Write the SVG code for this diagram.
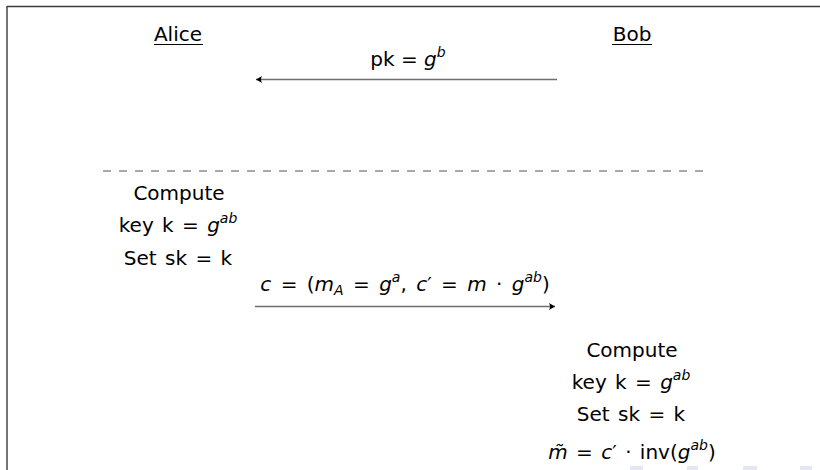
<svg xmlns="http://www.w3.org/2000/svg" width="820" height="470" viewBox="0 0 820 470">
<defs>
<style>
text{font-family:"DejaVu Sans","Liberation Sans",sans-serif;font-size:20px;fill:#000}
.c{text-anchor:middle}
.i{font-style:italic}
.s{font-size:14px}
.conn{stroke:#6e6e6e;stroke-width:1.3;fill:none}
.ul{stroke:#000;stroke-width:1.2}
</style>
<marker id="ah" markerWidth="10" markerHeight="10" refX="7" refY="5" orient="auto" markerUnits="userSpaceOnUse">
<path d="M7,5 L1,1.5 Q3,5 1,8.5 Z" fill="#000"/>
</marker>
</defs>
<rect x="0" y="0" width="820" height="470" fill="#fff"/>
<g id="frame" stroke="#3a3a3a" stroke-width="1.4" fill="none">
<line x1="7" y1="6.5" x2="820" y2="6.5"/>
<line x1="7" y1="6" x2="7" y2="470"/>
</g>
<g id="nav" fill="#e6e6f3">
<rect x="630" y="466" width="13" height="4"/>
<rect x="687" y="466" width="11" height="4"/>
<rect x="743" y="466" width="14" height="4"/>
<rect x="800" y="466" width="12" height="4"/>
</g>
<g id="alice">
<text class="c" x="178" y="41">Alice</text>
<line class="ul" x1="154" y1="44.5" x2="203" y2="44.5"/>
</g>
<g id="bob">
<text class="c" x="632" y="41">Bob</text>
<line class="ul" x1="612" y1="44.5" x2="652" y2="44.5"/>
</g>
<g id="separator">
<line x1="103" y1="171" x2="703" y2="171" stroke="#555" stroke-width="1.2" stroke-dasharray="8 8"/>
</g>
<g id="connectors">
<line class="conn" x1="557" y1="79.5" x2="256" y2="79.5" marker-end="url(#ah)"/>
<line class="conn" x1="255" y1="306.5" x2="555" y2="306.5" marker-end="url(#ah)"/>
</g>
<g id="label-pk">
<text class="c" x="408" y="66">pk = <tspan class="i">g</tspan><tspan class="i s" dy="-9">b</tspan></text>
</g>
<g id="alice-compute">
<text class="c" x="179" y="200">Compute</text>
<text class="c" x="178" y="232" word-spacing="2">key k = <tspan class="i">g</tspan><tspan class="i s" dy="-9">ab</tspan></text>
<text class="c" x="178" y="265" word-spacing="2">Set sk = k</text>
</g>
<g id="label-c">
<text class="c" x="405" y="291" word-spacing="3"><tspan class="i">c</tspan> = (<tspan class="i">m</tspan><tspan class="i s" dy="4">A</tspan><tspan dy="-4"> = </tspan><tspan class="i">g</tspan><tspan class="i s" dy="-9">a</tspan><tspan dy="9">, </tspan><tspan class="i">c</tspan>′ = <tspan class="i">m</tspan> · <tspan class="i">g</tspan><tspan class="i s" dy="-9">ab</tspan><tspan dy="9">)</tspan></text>
</g>
<g id="bob-compute">
<text class="c" x="632" y="357">Compute</text>
<text class="c" x="631" y="389" word-spacing="2">key k = <tspan class="i">g</tspan><tspan class="i s" dy="-9">ab</tspan></text>
<text class="c" x="631" y="421" word-spacing="2">Set sk = k</text>
<text class="c" x="632" y="459" word-spacing="2"><tspan class="i">m̃</tspan> = <tspan class="i">c</tspan>′ · inv(<tspan class="i">g</tspan><tspan class="i s" dy="-9">ab</tspan><tspan dy="9">)</tspan></text>
</g>
</svg>
